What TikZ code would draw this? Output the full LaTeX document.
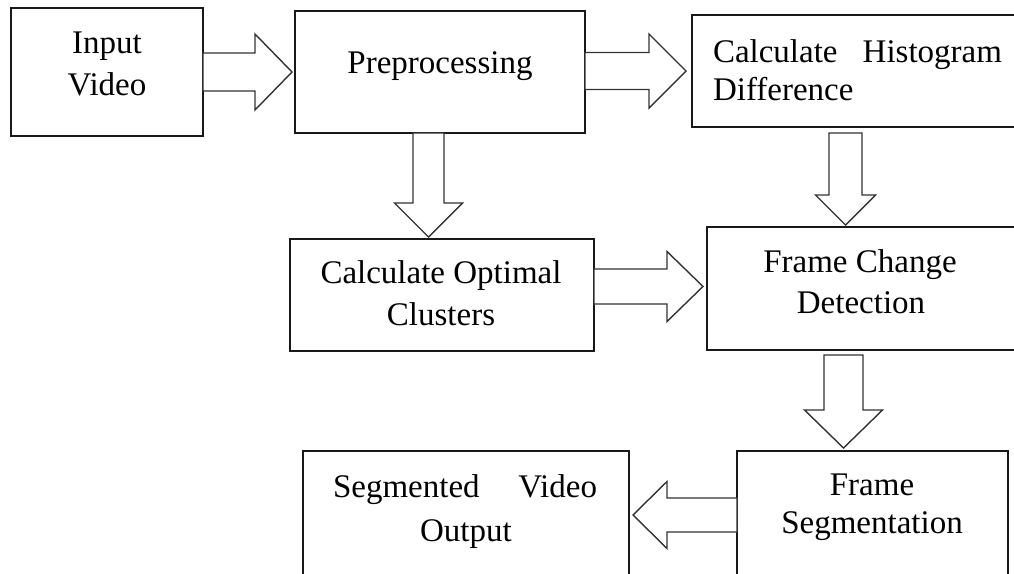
\documentclass[tikz,border=0pt]{standalone}
\usepackage{fontspec}
\setmainfont{Liberation Serif}
\usetikzlibrary{calc}
\tikzset{
  box/.style={draw=black!90, line width=1.8pt, inner sep=0pt, outer sep=0pt, fill=white},
  lbl/.style={inner sep=0pt, outer sep=0pt, anchor=base, font=\fontsize{33}{40}\selectfont, text=black},
  arr/.style={draw=black!80, line width=1.4pt, line join=miter, fill=white},
}
\newcommand\barrow[5]{%
  \path ($(#2)!#5!(#1)$) coordinate (bh);
  \draw[arr] ($(#1)!#3!90:(#2)$) -- ($(bh)!#3!90:(#2)$) -- ($(bh)!#4!90:(#2)$) -- (#2)
     -- ($(bh)!#4!-90:(#2)$) -- ($(bh)!#3!-90:(#2)$) -- ($(#1)!#3!-90:(#2)$) -- cycle;
}
\begin{document}
\begin{tikzpicture}[x=1pt, y=-1pt]
\useasboundingbox (0,0) rectangle (1014,573);
\fill[white] (0,0) rectangle (1014,573);
\clip (0,0) rectangle (1014,573);

% boxes
\node[box, minimum width=192pt, minimum height=128pt] (in)   at (107,72) {};
\node[box, minimum width=290pt, minimum height=122pt] (pre)  at (440,72) {};
\node[box, minimum width=338pt, minimum height=112pt] (hist) at (861,71) {};
\node[box, minimum width=304pt, minimum height=112pt] (clu)  at (442,295) {};
\node[box, minimum width=323pt, minimum height=123pt] (fcd)  at (868.5,288.5) {};
\node[box, minimum width=271pt, minimum height=149pt] (seg)  at (872.5,525.5) {};
\node[box, minimum width=326pt, minimum height=149pt] (out)  at (466,525.5) {};

% labels
\node[lbl] (inA) at (107,53) {Input};
\node[lbl] (inB) at (107,95) {Video};
\node[lbl] (preA) at (440,73) {Preprocessing};
\node[lbl, anchor=base west] (hiA) at (713,62) {Calculate};
\node[lbl, anchor=base east] (hiB) at (1002,62) {Histogram};
\node[lbl, anchor=base west] (hiC) at (713,100) {Difference};
\node[lbl] (cluA) at (441,283) {Calculate Optimal};
\node[lbl] (cluB) at (441,325) {Clusters};
\node[lbl] (fcdA) at (860,272) {Frame Change};
\node[lbl] (fcdB) at (861,313) {Detection};
\node[lbl] (segA) at (872,495) {Frame};
\node[lbl] (segB) at (872,533) {Segmentation};
\node[lbl, anchor=base west] (outA) at (333,497) {Segmented};
\node[lbl, anchor=base east] (outB) at (597,497) {Video};
\node[lbl] (outC) at (466,541) {Output};

% block arrows
\coordinate (a1s) at (in.east);
\coordinate (a1t) at ($(pre.west)+(-3,0)$);
\barrow{a1s}{a1t}{19pt}{38pt}{37pt}

\coordinate (a2t) at ($(hist.west)+(-6,0)$);
\coordinate (a2s) at (pre.east |- a2t);
\barrow{a2s}{a2t}{18.5pt}{37pt}{37pt}

\coordinate (a3s) at ($(hist.south west)+(153.5,6)$);
\coordinate (a3t) at ($(fcd.north west)+(138.5,-2)$);
\barrow{a3s}{a3t}{16.5pt}{30pt}{30pt}

\coordinate (a4s) at ($(pre.south west)+(133.5,0)$);
\coordinate (a4t) at ($(clu.north west)+(138.5,-2)$);
\barrow{a4s}{a4t}{15.5pt}{34pt}{34pt}

\coordinate (a5t) at ($(fcd.west)+(-4,-2)$);
\coordinate (a5s) at (clu.east |- a5t);
\barrow{a5s}{a5t}{17.5pt}{35pt}{36pt}

\coordinate (a6s) at ($(fcd.south west)+(136.5,5)$);
\coordinate (a6t) at ($(seg.north west)+(106.5,-3)$);
\barrow{a6s}{a6t}{19.5pt}{39pt}{38pt}

\coordinate (a7s) at ($(seg.north west)+(0,64)$);
\coordinate (a7t) at ($(out.east |- a7s)+(4,0)$);
\barrow{a7s}{a7t}{17pt}{33.5pt}{34pt}
\end{tikzpicture}
\end{document}
